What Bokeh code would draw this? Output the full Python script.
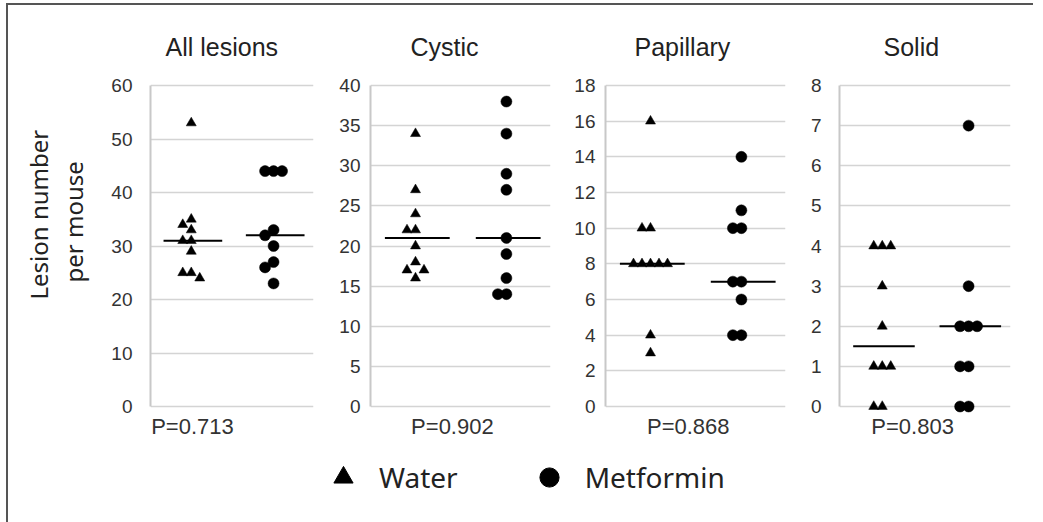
import numpy as np
from bokeh.plotting import figure
from bokeh.layouts import row, column
from bokeh.models import (Legend, LegendItem, Range1d, FixedTicker, Title,
                          CustomJSTickFormatter)
from bokeh.embed import file_html
from bokeh.resources import INLINE

# ---------------- data ----------------
panel_titles = ["All lesions", "Cystic", "Papillary", "Solid"]
groups = ["Water", "Metformin"]

water_all = [53, 35, 34, 33, 31, 31, 29, 25, 25, 24]
metformin_all = [44, 44, 44, 33, 32, 30, 27, 26, 23]
water_cystic = [34, 27, 24, 22, 22, 20, 18, 17, 17, 16]
metformin_cystic = [38, 34, 29, 27, 21, 19, 16, 14, 14]
water_papillary = [16, 10, 10, 8, 8, 8, 8, 8, 4, 3]
metformin_papillary = [14, 11, 10, 10, 7, 7, 6, 4, 4]
water_solid = [4, 4, 4, 3, 2, 1, 1, 1, 0, 0]
metformin_solid = [7, 3, 2, 2, 2, 1, 1, 0, 0]

y_max = [60, 40, 18, 8]
y_step = [10, 5, 2, 1]
p_values = ["P=0.713", "P=0.902", "P=0.868", "P=0.803"]
y_label_lines = ["Lesion number", "per mouse"]

water_sets = [water_all, water_cystic, water_papillary, water_solid]
met_sets = [metformin_all, metformin_cystic, metformin_papillary, metformin_solid]

# ---------------- layout / style ----------------
FH_DATA = 321          # pixel height of 0..ymax
PAD = 7                # px padding above/below the data range
FRAME_H = FH_DATA + 2 * PAD
frame_w = [163, 180, 180, 171]
mb_left = [142, 50, 48, 47]
mb_right = [7, 7, 7, 23]
tick_standoff = [18, 10, 10, 18]
p_x = [0.515, 0.91, 0.92, 0.855]
title_offset = [15, 40, 29, 44]
TOP = 73
BOTTOM = 32
SLOT_PX = 8.5

NUM_FONT = "Liberation Sans"
UI_FONT = "Noto Sans"


def swarm(vals, center, ppu, slot_units, min_dy=10.0):
    placed = []
    xs = []
    for v in vals:
        ypx = v * ppu
        chosen = 0
        for k in [0, -1, 1, -2, 2, -3, 3]:
            if all(not (s == k and abs(ypx - yp) < min_dy) for s, yp in placed):
                chosen = k
                break
        placed.append((chosen, ypx))
        xs.append(center + chosen * slot_units)
    return xs


figs = []
for i in range(4):
    ymax = y_max[i]
    ppu = FH_DATA / ymax
    pad_u = PAD / ppu
    p = figure(frame_width=frame_w[i], frame_height=FRAME_H,
               min_border_left=mb_left[i], min_border_right=mb_right[i],
               min_border_top=TOP, min_border_bottom=BOTTOM,
               x_range=Range1d(0, 2), y_range=Range1d(-pad_u, ymax + pad_u),
               output_backend="svg", toolbar_location=None,
               title=panel_titles[i])
    p.outline_line_color = None
    p.background_fill_color = "white"
    p.border_fill_color = "white"
    p.title.text_font = NUM_FONT
    p.title.text_font_size = "25px"
    p.title.text_font_style = "normal"
    p.title.text_color = "#222222"
    p.title.align = "left"
    p.title.offset = title_offset[i]
    p.title.standoff = 35

    ticks = list(range(0, ymax + 1, y_step[i]))
    # x axis only carries the P value text below the panel
    p.xaxis.ticker = FixedTicker(ticks=[p_x[i]])
    p.xaxis.formatter = CustomJSTickFormatter(args=dict(t=p_values[i]), code="return t")
    p.xaxis.axis_line_color = None
    p.xaxis.major_tick_line_color = None
    p.xaxis.minor_tick_line_color = None
    p.xaxis.major_tick_in = 0
    p.xaxis.major_tick_out = 0
    p.xaxis.major_label_standoff = 0
    p.xaxis.major_label_text_font = NUM_FONT
    p.xaxis.major_label_text_font_size = "22px"
    p.xaxis.major_label_text_color = "#333333"
    p.xgrid.visible = False

    p.yaxis.ticker = FixedTicker(ticks=ticks)
    p.yaxis.bounds = (0, ymax)
    p.yaxis.axis_line_color = "#c8c8c8"
    p.yaxis.axis_line_width = 2
    p.yaxis.major_tick_in = 0
    p.yaxis.major_tick_out = 0
    p.yaxis.minor_tick_line_color = None
    p.yaxis.major_label_standoff = tick_standoff[i]
    p.yaxis.major_label_text_font = NUM_FONT
    p.yaxis.major_label_text_font_size = "19px"
    p.yaxis.major_label_text_color = "#333333"
    p.ygrid.ticker = FixedTicker(ticks=ticks)
    p.ygrid.grid_line_color = "#d4d4d4"
    p.ygrid.grid_line_width = 1.6

    if i == 0:
        # the two-line y label, as two rotated side titles
        for txt, off, so in [(y_label_lines[1], 131, 38), (y_label_lines[0], 114, -38)]:
            p.add_layout(Title(text=txt, align="left", offset=off, standoff=so,
                               text_font=UI_FONT, text_font_size="24px",
                               text_font_style="normal", text_color="#222222"),
                         "left")

    slot_u = SLOT_PX / (frame_w[i] / 2.0)
    centers = [0.5, 1.51]
    w_vals = water_sets[i]
    m_vals = met_sets[i]

    # median lines
    meds = [float(np.median(w_vals)), float(np.median(m_vals))]
    for c, med in zip(centers, meds):
        p.segment(x0=[c + 0.02 - 0.36], x1=[c + 0.02 + 0.36], y0=[med], y1=[med],
                  line_color="black", line_width=2)

    wx = swarm(w_vals, centers[0], ppu, slot_u)
    mx = swarm(m_vals, centers[1], ppu, slot_u)
    p.scatter(x=wx, y=w_vals, marker="triangle", size=10,
              fill_color="black", line_color="black", line_width=0.5)
    p.scatter(x=mx, y=m_vals, marker="circle", size=11,
              fill_color="black", line_color="black", line_width=0.5)
    figs.append(p)

total_w = sum(mb_left[i] + frame_w[i] + mb_right[i] for i in range(4))

# legend strip
lp = figure(width=total_w, height=80, min_border=0, x_range=Range1d(0, 1),
            y_range=Range1d(0, 1), x_axis_type=None, y_axis_type=None,
            output_backend="svg", toolbar_location=None)
lp.outline_line_color = None
lp.xgrid.visible = False
lp.ygrid.visible = False
r_w = lp.scatter(x=[np.nan], y=[np.nan], marker="triangle", fill_color="black", line_color="black")
r_m = lp.scatter(x=[np.nan], y=[np.nan], marker="circle", fill_color="black", line_color="black")
legend = Legend(items=[LegendItem(label=groups[0], renderers=[r_w]),
                       LegendItem(label=groups[1], renderers=[r_m])],
                orientation="horizontal", location=(311, 24),
                glyph_width=48, glyph_height=48, label_standoff=12, spacing=67,
                padding=0, margin=0, border_line_color=None,
                background_fill_alpha=0,
                label_text_font=UI_FONT, label_text_font_size="28px",
                label_text_color="#222222", label_text_baseline="middle")
lp.add_layout(legend, "center")

layout = column(row(*figs, spacing=0), lp, spacing=0,
                styles={"margin-left": "6px", "margin-top": "3px",
                        "border-left": "2px solid #555555",
                        "border-top": "2px solid #555555",
                        "border-bottom": "1px solid #cccccc"})

open("out.html", "w").write(file_html(layout, INLINE))
